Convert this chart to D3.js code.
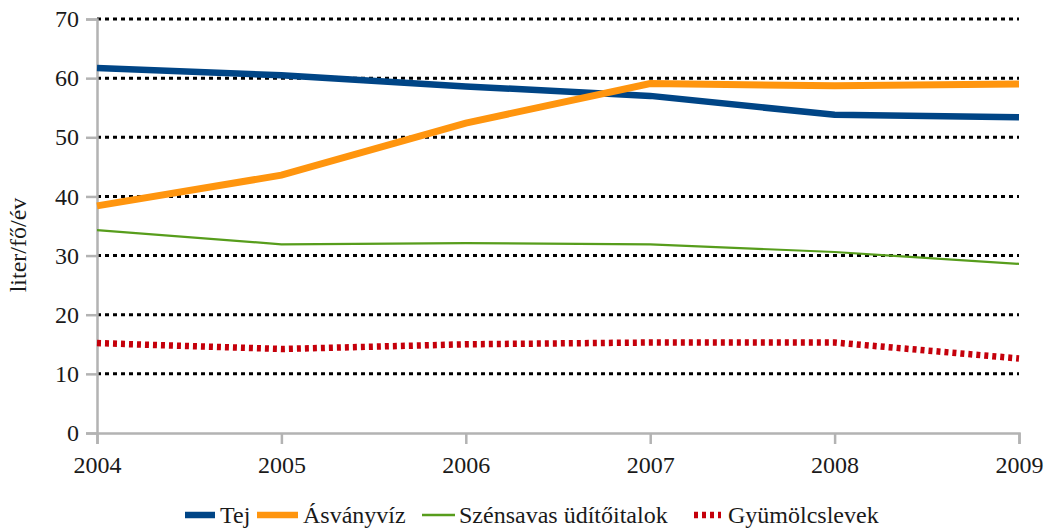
<!DOCTYPE html>
<html>
<head>
<meta charset="utf-8">
<script src="https://cdn.jsdelivr.net/npm/d3@7"></script>
<style>
  html, body { margin: 0; padding: 0; background: #fff; }
  svg { display: block; }
</style>
</head>
<body>
<svg id="chart" width="1048" height="528"></svg>
<script>
const years = [2004, 2005, 2006, 2007, 2008, 2009];
const yTicks = [0, 10, 20, 30, 40, 50, 60, 70];
const tej = [61.7, 60.5, 58.6, 57.0, 53.8, 53.4];
const asvanyviz = [38.4, 43.6, 52.4, 59.1, 58.7, 59.0];
const szensavas = [34.3, 31.9, 32.1, 31.9, 30.6, 28.6];
const gyumolcs = [15.2, 14.2, 15.0, 15.3, 15.3, 12.6];
const seriesNames = ["Tej", "Ásványvíz", "Szénsavas üdítőitalok", "Gyümölcslevek"];
const yTitle = "liter/fő/év";

const FONT = "Liberation Serif";

const seriesStyles = [
  { color: "#004586", width: 6.5, dash: null },
  { color: "#ff950e", width: 7, dash: null },
  { color: "#579d1c", width: 2.2, dash: null },
  { color: "#c5000b", width: 6.5, dash: "4,4" }
];
const seriesData = [tej, asvanyviz, szensavas, gyumolcs];

const svg = d3.select("#chart");
const x = d3.scaleLinear().domain([2004, 2009]).range([97, 1019]);
const y = d3.scaleLinear().domain([0, 70]).range([433, 19]);

svg.append("g").selectAll("line")
  .data(yTicks.filter(d => d > 0))
  .join("line")
  .attr("x1", x(2004)).attr("x2", x(2009))
  .attr("y1", d => y(d)).attr("y2", d => y(d))
  .attr("stroke", "#000").attr("stroke-width", 3)
  .attr("stroke-dasharray", "4,4");

const yAxis = d3.axisLeft(y).tickValues(yTicks).tickSize(11).tickPadding(7).tickFormat(d3.format("d"));
const gy = svg.append("g").attr("transform", `translate(${x(2004)},0)`).call(yAxis);
gy.attr("font-family", null).attr("font-size", null);
gy.select(".domain").attr("stroke", "#b3b3b3").attr("stroke-width", 2.5);
gy.selectAll(".tick line").attr("stroke", "#b3b3b3").attr("stroke-width", 2.5);
gy.selectAll(".tick text").attr("fill", "#1a1a1a")
  .style("font-family", FONT).style("font-size", "24px");

const xAxis = d3.axisBottom(x).tickValues(years).tickSize(11).tickPadding(12).tickFormat(d3.format("d"));
const gx = svg.append("g").attr("transform", `translate(0,${y(0)})`).call(xAxis);
gx.attr("font-family", null).attr("font-size", null);
gx.select(".domain").attr("stroke", "#b3b3b3").attr("stroke-width", 2.5);
gx.selectAll(".tick line").attr("stroke", "#b3b3b3").attr("stroke-width", 2.5);
gx.selectAll(".tick text").attr("fill", "#1a1a1a")
  .style("font-family", FONT).style("font-size", "24px");

svg.append("text")
  .attr("transform", "translate(26,245) rotate(-90)")
  .attr("text-anchor", "middle")
  .style("font-family", FONT)
  .style("font-size", "24px")
  .attr("fill", "#1a1a1a")
  .text(yTitle);

const line = d3.line().x((d, i) => x(years[i])).y(d => y(d));
seriesData.forEach((vals, k) => {
  const s = seriesStyles[k];
  const p = svg.append("path").datum(vals)
    .attr("d", line)
    .attr("fill", "none")
    .attr("stroke", s.color)
    .attr("stroke-width", s.width)
    .attr("stroke-linejoin", "miter");
  if (s.dash) p.attr("stroke-dasharray", s.dash);
});

const legendItems = [
  { sx: 185, tx: 220 },
  { sx: 257, tx: 303 },
  { sx: 422, tx: 459 },
  { sx: 694, tx: 728 }
];
const swW = [30, 41, 33, 27];
const legY = 515;
seriesNames.forEach((name, k) => {
  const s = seriesStyles[k];
  const li = legendItems[k];
  const l = svg.append("line")
    .attr("x1", li.sx).attr("x2", li.sx + swW[k])
    .attr("y1", legY).attr("y2", legY)
    .attr("stroke", s.color)
    .attr("stroke-width", k === 2 ? 2.5 : 6.5);
  if (s.dash) l.attr("stroke-dasharray", s.dash);
  svg.append("text")
    .attr("x", li.tx).attr("y", legY + 8)
    .style("font-family", FONT)
    .style("font-size", "24px")
    .attr("fill", "#1a1a1a")
    .text(name);
});
</script>
</body>
</html>
